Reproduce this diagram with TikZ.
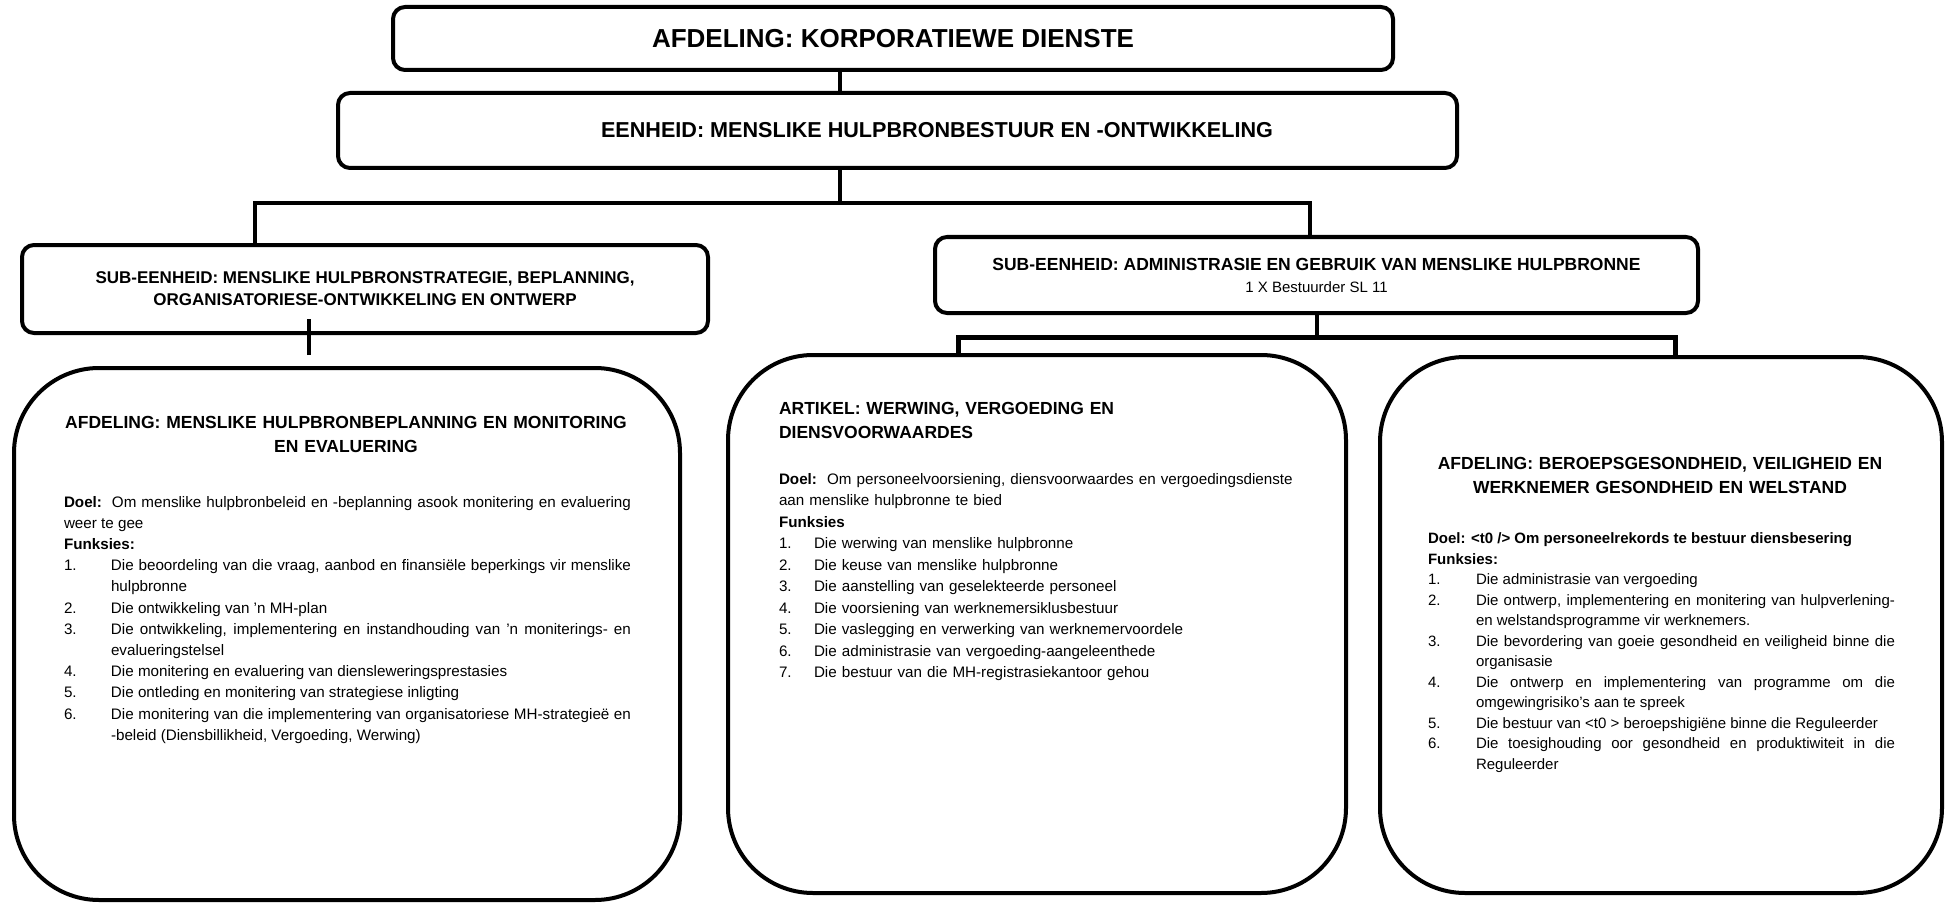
\documentclass[tikz,border=0pt]{standalone}
\usepackage{fontspec}
\setmainfont{Liberation Sans}

\newlength{\numw}
\newcommand{\itm}[2]{\par\hangindent=\numw\hangafter=1\noindent\makebox[\numw][l]{#1}#2}
\newcommand{\bodyfont}[2]{\fontsize{#1}{#2}\selectfont\parindent=0pt\hyphenpenalty=10000\relax}
\newcommand{\headfont}{\bfseries\fontsize{17.5}{23.5}\selectfont}
\newcommand{\subfont}{\bfseries\fontsize{17}{22}\selectfont}

\begin{document}
\begin{tikzpicture}[x=1pt, y=-1pt, line width=4pt,
  box/.style={draw=black, rounded corners=12pt, align=center},
  bigbox/.style={draw=black, rounded corners=85pt},
  head/.style={inner sep=0pt, font=\headfont},
  body/.style={anchor=north west, inner sep=0pt}]

\useasboundingbox (0,0) rectangle (1946,904);

% afdeling en eenheid
\node[box, minimum width=1000pt, minimum height=63pt, font=\bfseries\fontsize{26}{30}\selectfont] (afdeling) at (893,38.5) {AFDELING: KORPORATIEWE DIENSTE};
\node[box, minimum width=1119pt, minimum height=75pt] (eenheid) at (897.5,130.5) {};
\node[font=\bfseries\fontsize{21.6}{26}\selectfont] (eenheidtxt) at (937,130.5) {EENHEID: MENSLIKE HULPBRONBESTUUR EN -ONTWIKKELING};

% sub-eenhede
\node[box, minimum width=686pt, minimum height=88pt, font=\subfont] (subL) at (365,289) {SUB-EENHEID: MENSLIKE HULPBRONSTRATEGIE, BEPLANNING,\\ORGANISATORIESE-ONTWIKKELING EN ONTWERP};
\node[box, minimum width=763pt, minimum height=76pt, font=\bfseries\fontsize{17.5}{22}\selectfont] (subR) at (1316.5,275) {SUB-EENHEID: ADMINISTRASIE EN GEBRUIK VAN MENSLIKE HULPBRONNE\\{\mdseries\fontsize{15}{18}\selectfont 1 X Bestuurder SL 11}};

% groot blokke
\node[bigbox, minimum width=666pt, minimum height=532pt] (bigL) at (347,634) {};
\node[bigbox, minimum width=618pt, minimum height=538pt] (bigM) at (1037,624) {};
\node[bigbox, minimum width=562pt, minimum height=536pt] (bigR) at (1661,625) {};

% lyne
\coordinate (knoop) at (840,203);
\coordinate (knoopL) at (255,203);
\coordinate (knoopR) at (1310,203);
\draw (afdeling.south -| knoop) -- (eenheid.north -| knoop);
\draw (eenheid.south -| knoop) -- (knoop);
\draw (subL.north -| knoopL) -- (knoopL) -- (knoopR) -- (subR.north -| knoopR);

\coordinate (afsnyL) at (309,355);
\draw (afsnyL) -- (subL.south -| afsnyL) -- ++(0,-16);

\coordinate (knoop2) at (1317,337);
\coordinate (knoop2L) at (958,337);
\coordinate (knoop2R) at (1675,337);
\draw (subR.south -| knoop2) -- (knoop2);
\draw[line width=5pt] (bigM.north -| knoop2L) -- (knoop2L) -- (knoop2R) -- (bigR.north -| knoop2R);

% links
\node[head, anchor=north, text width=640pt, align=center] (hoofL) at (346,414.5) {AFDELING: MENSLIKE HULPBRONBEPLANNING EN MONITORING\\EN EVALUERING};
\node[body, text width=567pt, align=justify, font={\bodyfont{15.2}{21.2}}] (tekstL) at (62,494) {\numw=47pt
\textbf{Doel:}\ \ Om menslike hulpbronbeleid en -beplanning asook monitering en evaluering\linebreak weer te gee\par
\textbf{Funksies:}
\itm{1.}{Die beoordeling van die vraag, aanbod en finansiële beperkings vir menslike\linebreak hulpbronne}
\itm{2.}{Die ontwikkeling van 'n MH-plan}
\itm{3.}{Die ontwikkeling, implementering en instandhouding van 'n moniterings- en\linebreak evalueringstelsel}
\itm{4.}{Die monitering en evaluering van diensleweringsprestasies}
\itm{5.}{Die ontleding en monitering van strategiese inligting}
\itm{6.}{Die monitering van die implementering van organisatoriese MH-strategieë en\linebreak -beleid (Diensbillikheid, Vergoeding, Werwing)}\par};

% middel
\node[head, anchor=north west, text width=560pt, align=left] (hoofM) at (777,400.5) {ARTIKEL: WERWING, VERGOEDING EN\\DIENSVOORWAARDES};
\node[body, text width=540pt, align=left, font={\bodyfont{15.2}{21.5}}] (tekstM) at (777,471) {\numw=35pt
\textbf{Doel:}\ \ Om personeelvoorsiening, diensvoorwaardes en vergoedingsdienste\\aan menslike hulpbronne te bied\par
\textbf{Funksies}
\itm{1.}{Die werwing van menslike hulpbronne}
\itm{2.}{Die keuse van menslike hulpbronne}
\itm{3.}{Die aanstelling van geselekteerde personeel}
\itm{4.}{Die voorsiening van werknemersiklusbestuur}
\itm{5.}{Die vaslegging en verwerking van werknemervoordele}
\itm{6.}{Die administrasie van vergoeding-aangeleenthede}
\itm{7.}{Die bestuur van die MH-registrasiekantoor gehou}\par};

% regs
\node[head, anchor=north, text width=520pt, align=center] (hoofR) at (1660,455.5) {AFDELING: BEROEPSGESONDHEID, VEILIGHEID EN\\WERKNEMER GESONDHEID EN WELSTAND};
\node[body, text width=467pt, align=justify, font={\bodyfont{15}{20.5}}] (tekstR) at (1426,531) {\numw=48pt
\textbf{Doel: <t0 /> Om personeelrekords te bestuur diensbesering}\par
\textbf{Funksies:}
\itm{1.}{Die administrasie van vergoeding}
\itm{2.}{Die ontwerp, implementering en monitering van hulpverlening-\linebreak en welstandsprogramme vir werknemers.}
\itm{3.}{Die bevordering van goeie gesondheid en veiligheid binne die\linebreak organisasie}
\itm{4.}{Die ontwerp en implementering van programme om die\linebreak omgewingrisiko's aan te spreek}
\itm{5.}{Die bestuur van <t0 > beroepshigiëne binne die Reguleerder}
\itm{6.}{Die toesighouding oor gesondheid en produktiwiteit in die\linebreak Reguleerder}\par};
\end{tikzpicture}
\end{document}
